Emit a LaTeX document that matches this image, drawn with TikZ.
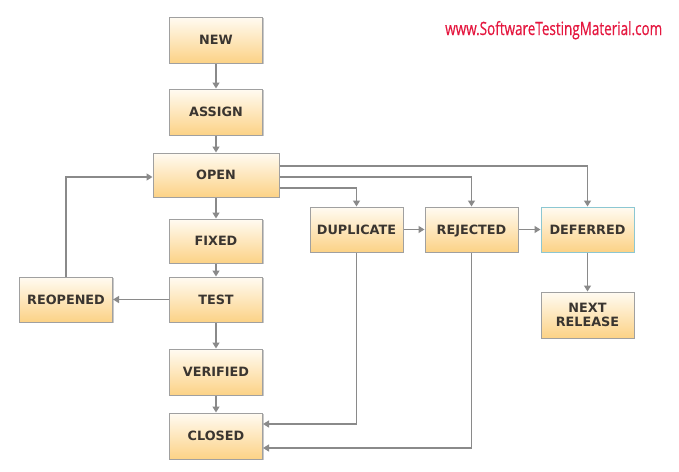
\documentclass[tikz,border=0pt]{standalone}
\usepackage{fontspec}
\setmainfont{DejaVu Sans}
\newfontfamily\wmfont[FakeBold=0.6]{Open Sans}
\usetikzlibrary{arrows.meta,shadows}
\definecolor{boxtop}{HTML}{FFFBF2}
\definecolor{boxbot}{HTML}{FCD286}
\definecolor{boxline}{HTML}{A0A0A0}
\definecolor{arrcol}{HTML}{8A8A8A}
\definecolor{txtcol}{HTML}{3A3530}
\definecolor{wmred}{HTML}{E5173F}
\definecolor{teal}{HTML}{8CC7D2}
\begin{document}
\begin{tikzpicture}[x=1pt,y=-1pt,
  state/.style={draw=boxline, line width=1pt, top color=boxtop, bottom color=boxbot,
    minimum width=93pt, minimum height=46pt, inner sep=1pt, align=center,
    font=\fontsize{12.8}{14.5}\selectfont\bfseries, text=txtcol,
    drop shadow={shadow xshift=1.2pt, shadow yshift=-1.2pt, opacity=0.35, fill=black!60}},
  arr/.style={draw=arrcol, line width=1.3pt, -{Triangle[width=7pt,length=6pt]}}]
\useasboundingbox (0,0) rectangle (679,471);
\fill[white] (0,0) rectangle (679,471);

\node[state] (new) at (216,40) {NEW};
\node[state] (assign) at (216,112) {ASSIGN};
\node[state, minimum width=126pt, minimum height=44pt] (open) at (216,175) {OPEN};
\node[state, minimum height=44pt] (fixed) at (216,241) {FIXED};
\node[state, minimum height=45pt] (test) at (216,299.5) {TEST};
\node[state, minimum height=45pt] (reop) at (66,299.5) {REOPENED};
\node[state] (verified) at (216,372) {VERIFIED};
\node[state] (closed) at (216,436) {CLOSED};
\node[state, minimum height=45pt] (dup) at (356.5,229.5) {DUPLICATE};
\node[state, minimum height=45pt, text depth=0pt] (rej) at (471.5,229.5) {REJECTED};
\node[state, minimum height=45pt, draw=teal] (def) at (587.5,229.5) {DEFERRED};
\node[state] (next) at (587.5,315) {NEXT\\RELEASE};

\node[anchor=base west, inner sep=0pt, text=wmred] (wm) at (445,35)
  {\resizebox{217pt}{14pt}{\wmfont www.SoftwareTestingMaterial.com}};

\draw[arr] (new) -- (assign);
\draw[arr] (assign) -- (open);
\draw[arr] (open) -- (fixed);
\draw[arr] (fixed) -- (test);
\draw[arr] (test) -- (reop);
\draw[arr] (test) -- (verified);
\draw[arr] (verified) -- (closed);
\draw[arr] (reop.north) |- ([yshift=-2pt]open.west);
\draw[arr] ([yshift=9pt]open.east) -| (def.north);
\draw[arr] ([yshift=-2pt]open.east) -| (rej.north);
\draw[arr] ([yshift=-13pt]open.east) -| (dup.north);
\draw[arr] (dup) -- (rej);
\draw[arr] (rej) -- (def);
\draw[arr] (def) -- (next);
\draw[arr] (dup.south) |- ([yshift=12pt]closed.east);
\draw[arr] (rej.south) |- ([yshift=-12pt]closed.east);
\end{tikzpicture}
\end{document}
